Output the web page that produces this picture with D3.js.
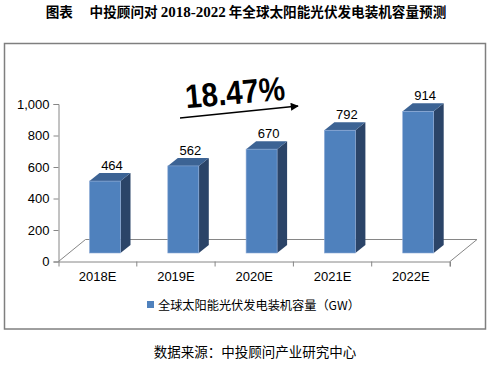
<!DOCTYPE html>
<html><head><meta charset="utf-8">
<script src="https://cdn.jsdelivr.net/npm/d3@7/dist/d3.min.js"></script>
<style>body{margin:0;background:#fff}svg{display:block}</style>
</head><body>
<script>
const categories = ["2018E","2019E","2020E","2021E","2022E"];
const values = [464,562,670,792,914];
const yTicks = [0,200,400,600,800,1000];
const seriesName = "全球太阳能光伏发电装机容量（GW）";
const growthLabel = "18.47%";
const titleParts = ["图表　 中投顾问对 ", "2018-2022", " 年全球太阳能光伏发电装机容量预测"];
const sourceText = "数据来源：中投顾问产业研究中心";

const W = 496, H = 367;
const svg = d3.select("body").append("svg").attr("width", W).attr("height", H);

// title
const title = svg.append("text").attr("x", 246).attr("y", 17).attr("text-anchor", "middle")
  .attr("font-family", "'Noto Sans CJK SC', sans-serif").attr("font-weight", "bold")
  .attr("font-size", 13.6).attr("fill", "#000");
titleParts.forEach((t, i) => {
  title.append("tspan")
    .attr("font-family", i === 1 ? "'Liberation Serif', serif" : "'Noto Sans CJK SC', sans-serif")
    .attr("font-size", i === 1 ? 15 : 13.6).text(t);
});

// frame
svg.append("rect").attr("x", 4.5).attr("y", 43.5).attr("width", 481).attr("height", 285.5)
  .attr("fill", "none").attr("stroke", "#7f7f7f").attr("stroke-width", 1.5);

const x = d3.scaleBand().domain(categories).range([58.5, 450]).padding(0);
const yAxisScale = d3.scaleLinear().domain([0, 1000]).range([261.5, 104]);
const yBar = d3.scaleLinear().domain([0, 1000]).range([253, 98]);

const gray = "#868686";
const fdx = 27, fdy = 22;
// floor
const x0 = x.range()[0], x1 = x.range()[1], yf = yAxisScale(0);
svg.append("path")
  .attr("d", `M${x0},${yf} L${x0+fdx},${yf-fdy} L${x1+fdx},${yf-fdy} L${x1},${yf}`)
  .attr("fill", "none").attr("stroke", gray).attr("stroke-width", 1);

// y axis
const yAxis = d3.axisLeft(yAxisScale).tickValues(yTicks).tickSize(5).tickPadding(4)
  .tickFormat(d3.format(","));
const gy = svg.append("g").attr("transform", `translate(${x0},0)`).call(yAxis);
gy.select(".domain").attr("stroke", gray);
gy.selectAll(".tick line").attr("stroke", gray);
gy.selectAll("text").attr("font-family", "'Liberation Sans', Arial, sans-serif")
  .attr("font-size", 13).attr("fill", "#000");

// x axis
const xAxis = d3.axisBottom(x).tickSize(5).tickSizeOuter(5).tickPadding(5);
const gx = svg.append("g").attr("transform", `translate(0,${yf})`).call(xAxis);
gx.select(".domain").attr("stroke", gray);
gx.selectAll(".tick line").attr("stroke", gray).attr("x1", x.bandwidth()/2).attr("x2", x.bandwidth()/2);
gx.selectAll("text").attr("font-family", "'Liberation Sans', Arial, sans-serif")
  .attr("font-size", 13).attr("fill", "#000");

// bars
const bw = 31, dx = 10, dy = 8, off = 31;
const data = categories.map((c, i) => ({c, v: values[i]}));
const bars = svg.append("g").selectAll("g").data(data).join("g");
bars.each(function(d) {
  const g = d3.select(this);
  const bx = x(d.c) + off, yt = yBar(d.v), yb = yBar(0);
  g.append("path")
    .attr("d", `M${bx+bw},${yt} L${bx+bw+dx},${yt-dy} L${bx+bw+dx},${yb-dy} L${bx+bw},${yb}Z`)
    .attr("fill", "#2b4468");
  g.append("path")
    .attr("d", `M${bx},${yt} L${bx+bw},${yt} L${bx+bw+dx},${yt-dy} L${bx+dx},${yt-dy}Z`)
    .attr("fill", "#3c6394");
  g.append("rect").attr("x", bx).attr("y", yt).attr("width", bw).attr("height", yb - yt)
    .attr("fill", "#4f81bd").attr("stroke", "#8eaad6").attr("stroke-width", 0.6);
  g.append("text").attr("x", bx + 22.5).attr("y", yt - 11).attr("text-anchor", "middle")
    .attr("font-family", "'Liberation Sans', Arial, sans-serif").attr("font-size", 13)
    .attr("fill", "#000").text(d.v);
});

// growth arrow
const defs = svg.append("defs");
defs.append("marker").attr("id", "ah").attr("viewBox", "0 0 10 10").attr("refX", 9).attr("refY", 5)
  .attr("markerWidth", 6).attr("markerHeight", 5).attr("orient", "auto")
  .append("path").attr("d", "M0,0 L10,5 L0,10Z").attr("fill", "#000");
svg.append("line").attr("x1", 180).attr("y1", 118).attr("x2", 298).attr("y2", 106)
  .attr("stroke", "#000").attr("stroke-width", 1.6).attr("marker-end", "url(#ah)");
svg.append("text").attr("transform", "translate(236,104) rotate(-5) scale(0.95,1.08)")
  .attr("text-anchor", "middle").attr("font-family", "'Liberation Sans', Arial, sans-serif")
  .attr("font-weight", "bold").attr("font-size", 31).attr("fill", "#000").text(growthLabel);

// legend
svg.append("rect").attr("x", 147).attr("y", 301).attr("width", 7).attr("height", 7).attr("fill", "#4f81bd");
svg.append("text").attr("x", 158).attr("y", 310)
  .attr("font-family", "'Noto Sans CJK SC', sans-serif").attr("font-size", 12.2)
  .attr("fill", "#000").text(seriesName);

// source
svg.append("text").attr("x", 255).attr("y", 357).attr("text-anchor", "middle")
  .attr("font-family", "'Noto Sans CJK SC', sans-serif").attr("font-size", 13.5)
  .attr("fill", "#000").text(sourceText);
</script>
</body></html>
